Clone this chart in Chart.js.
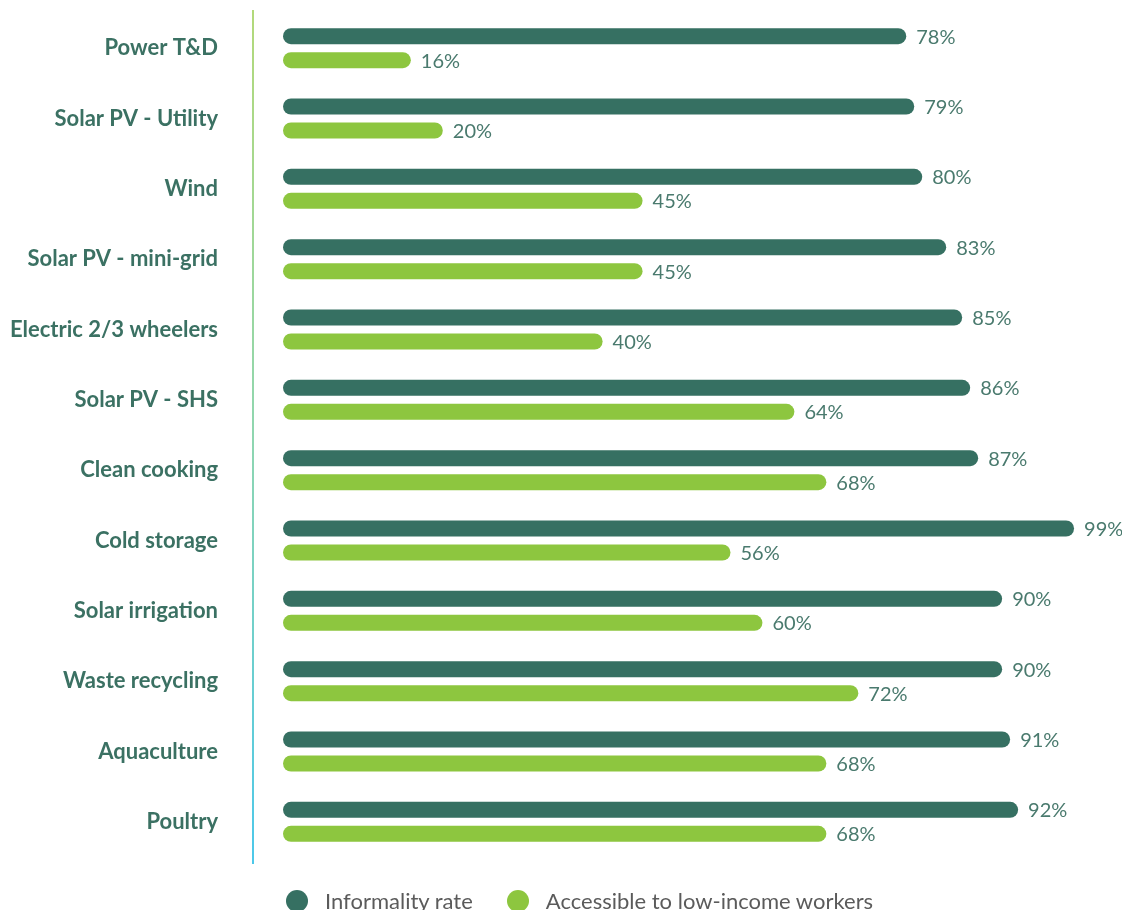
<!DOCTYPE html>
<html>
<head>
<meta charset="utf-8">
<title>Informality and accessibility by sector</title>
<script src="https://cdn.jsdelivr.net/npm/chart.js@4.4.0/dist/chart.umd.min.js"></script>
<style>
    body { margin: 0; background: #fff; }
    .wrap { position: relative; width: 1122px; height: 910px; overflow: hidden; }
    .legend { position: absolute; left: 286px; top: 887px; display: flex; align-items: center;
              font: 22px Lato, sans-serif; color: #5b5b5b; white-space: nowrap; }
    .legend span.dot { display: inline-block; width: 22px; height: 22px; border-radius: 50%; margin-right: 17px; }
    .legend .item { display: flex; align-items: center; }
    .legend .item + .item { margin-left: 34px; }
</style>
</head>
<body>
<div class="wrap">
    <canvas id="sectorChart" width="1122" height="910"></canvas>
    <div class="legend">
        <div class="item"><span class="dot" style="background:#367062"></span>Informality rate</div>
        <div class="item"><span class="dot" style="background:#8dc63f"></span>Accessible to low-income workers</div>
    </div>
</div>
<script>
const sectors = [
    'Power T&D', 'Solar PV - Utility', 'Wind', 'Solar PV - mini-grid',
    'Electric 2/3 wheelers', 'Solar PV - SHS', 'Clean cooking', 'Cold storage',
    'Solar irrigation', 'Waste recycling', 'Aquaculture', 'Poultry'
];
const informalityRate = [78, 79, 80, 83, 85, 86, 87, 99, 90, 90, 91, 92];
const lowIncomeAccess = [16, 20, 45, 45, 40, 64, 68, 56, 60, 72, 68, 68];

const DARK = '#367062';
const LIGHT = '#8dc63f';
const TEXT = '#3b7163';

// Percent labels at the end of each bar
const valueLabels = {
    id: 'valueLabels',
    afterDatasetsDraw(chart) {
        const ctx = chart.ctx;
        ctx.save();
        ctx.font = '20px Lato, sans-serif';
        ctx.fillStyle = '#4a7a6e';
        ctx.textBaseline = 'middle';
        ctx.textAlign = 'left';
        chart.data.datasets.forEach((ds, i) => {
            chart.getDatasetMeta(i).data.forEach((bar, j) => {
                ctx.fillText(ds.data[j] + '%', bar.x + 10, bar.y + 1);
            });
        });
        ctx.restore();
    }
};

// Divider between the sector names and the bars, fading green to blue
const dividerLine = {
    id: 'dividerLine',
    beforeDatasetsDraw(chart) {
        const { ctx, chartArea } = chart;
        const x = chartArea.left - 30;
        const top = chartArea.top - 3;
        const bottom = chartArea.bottom + 7;
        const grad = ctx.createLinearGradient(0, top, 0, bottom);
        grad.addColorStop(0, '#b3d97a');
        grad.addColorStop(0.5, '#8fd6b0');
        grad.addColorStop(1, '#4cc8ea');
        ctx.save();
        ctx.strokeStyle = grad;
        ctx.lineWidth = 2;
        ctx.beginPath();
        ctx.moveTo(x, top);
        ctx.lineTo(x, bottom);
        ctx.stroke();
        ctx.restore();
    }
};

new Chart(document.getElementById('sectorChart'), {
    type: 'bar',
    data: {
        labels: sectors,
        datasets: [
            {
                label: 'Informality rate',
                data: informalityRate,
                backgroundColor: DARK,
                borderRadius: 8,
                borderSkipped: false,
                categoryPercentage: 0.683,
                barPercentage: 0.667,
            },
            {
                label: 'Accessible to low-income workers',
                data: lowIncomeAccess,
                backgroundColor: LIGHT,
                borderRadius: 8,
                borderSkipped: false,
                categoryPercentage: 0.683,
                barPercentage: 0.667,
            },
        ],
    },
    options: {
        indexAxis: 'y',
        responsive: false,
        animation: false,
        layout: { padding: { top: 13, bottom: 53, left: 0, right: 0 } },
        scales: {
            x: {
                min: 0,
                max: 105,
                display: false,
            },
            y: {
                grid: { display: false, drawTicks: false },
                border: { display: false },
                // fixed label column; tick padding should not pad the axis ends
                afterFit(scale) {
                    scale.width = 283;
                    scale.paddingTop = 0;
                    scale.paddingBottom = 0;
                },
                ticks: {
                    padding: 65,
                    color: TEXT,
                    font: { family: 'Lato, sans-serif', size: 22, weight: 'bold' },
                },
            },
        },
        plugins: {
            legend: { display: false },
            tooltip: {
                callbacks: {
                    label: (context) => `${context.dataset.label}: ${context.parsed.x}%`,
                },
            },
        },
    },
    plugins: [valueLabels, dividerLine],
});
</script>
</body>
</html>
